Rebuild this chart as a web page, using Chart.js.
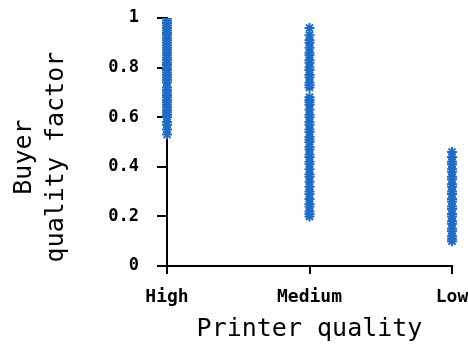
<!DOCTYPE html>
<html>
<head>
<meta charset="utf-8">
<script src="https://cdn.jsdelivr.net/npm/chart.js@4/dist/chart.umd.min.js"></script>
<style>
  html, body { margin: 0; padding: 0; background: #fff; }
  #wrap { width: 468px; height: 345px; }
</style>
</head>
<body>
<div id="wrap"><canvas id="chart" width="468" height="345"></canvas></div>
<script>
// categories
const categories = ['High', 'Medium', 'Low'];
// buyer quality factor per printer quality
const highValues = [1.0, 0.99, 0.98, 0.97, 0.96, 0.95, 0.94, 0.93, 0.92, 0.91, 0.9, 0.89, 0.88, 0.87, 0.86,
  0.85, 0.84, 0.83, 0.82, 0.81, 0.8, 0.79, 0.78, 0.77, 0.76, 0.75, 0.74, 0.72, 0.71, 0.7, 0.69, 0.68,
  0.67, 0.66, 0.65, 0.64, 0.63, 0.62, 0.61, 0.6, 0.58, 0.57, 0.55, 0.53];
const mediumValues = [0.96, 0.93, 0.91, 0.9, 0.88, 0.86, 0.85, 0.83, 0.82, 0.8, 0.79, 0.77, 0.76,
  0.74, 0.73, 0.72, 0.68, 0.67, 0.66, 0.65, 0.63, 0.61, 0.6, 0.58, 0.57, 0.55, 0.54, 0.52, 0.51,
  0.5, 0.48, 0.47, 0.45, 0.44, 0.42, 0.41, 0.39, 0.37, 0.36, 0.34, 0.32, 0.3, 0.29, 0.27, 0.25,
  0.24, 0.22, 0.21, 0.2];
const lowValues = [0.46, 0.44, 0.42, 0.41, 0.39, 0.38, 0.36, 0.35, 0.33, 0.32, 0.3, 0.29, 0.27,
  0.26, 0.24, 0.23, 0.21, 0.2, 0.18, 0.17, 0.15, 0.14, 0.12, 0.11, 0.1];
const yTicks = [0, 0.2, 0.4, 0.6, 0.8, 1];

const series = [highValues, mediumValues, lowValues];
const points = [];
series.forEach((vals, i) => {
  vals.forEach(v => points.push({ x: categories[i], y: v }));
});

const mono = "'DejaVu Sans Mono', 'Liberation Mono', monospace";

new Chart(document.getElementById('chart'), {
  type: 'scatter',
  data: {
    labels: categories,
    datasets: [{
      data: points,
      pointStyle: 'star',
      pointRadius: 5,
      pointHoverRadius: 5,
      borderWidth: 2,
      borderColor: '#1f6cc8',
      backgroundColor: '#1f6cc8',
    }],
  },
  options: {
    responsive: false,
    animation: false,
    layout: { padding: { top: 18, right: 16, left: 0, bottom: 0 } },
    plugins: { legend: { display: false }, tooltip: { enabled: false } },
    scales: {
      x: {
        type: 'category',
        labels: categories,
        offset: false,
        border: { color: '#000', width: 2 },
        grid: { drawOnChartArea: false, color: '#000', lineWidth: 2, tickLength: 8 },
        ticks: { color: '#000', font: { family: mono, size: 18, weight: 'bold' }, padding: 13, maxRotation: 0 },
        title: { display: true, text: 'Printer quality', color: '#000',
          font: { family: mono, size: 25 }, padding: { top: 0, bottom: 1 } },
        afterFit: s => { s.height = 79; s.paddingLeft = 0; s.paddingRight = 0; },
      },
      y: {
        min: 0,
        max: 1,
        afterBuildTicks: s => { s.ticks = yTicks.map(v => ({ value: v })); },
        border: { color: '#000', width: 2 },
        grid: { drawOnChartArea: false, color: '#000', lineWidth: 2, tickLength: 10 },
        ticks: { color: '#000', font: { family: mono, size: 17, weight: 'bold' }, padding: 18,
          callback: v => String(v) },
        // trailing spaces nudge the rotated title down a little, as in the original
        title: { display: true, text: ['Buyer  ', 'quality factor  '], color: '#000',
          font: { family: mono, size: 25, lineHeight: 1.3 }, padding: { top: 8, bottom: 0 } },
        afterFit: s => { s.width = 167; s.paddingTop = 0; s.paddingBottom = 0; },
      },
    },
  },
});
</script>
</body>
</html>
